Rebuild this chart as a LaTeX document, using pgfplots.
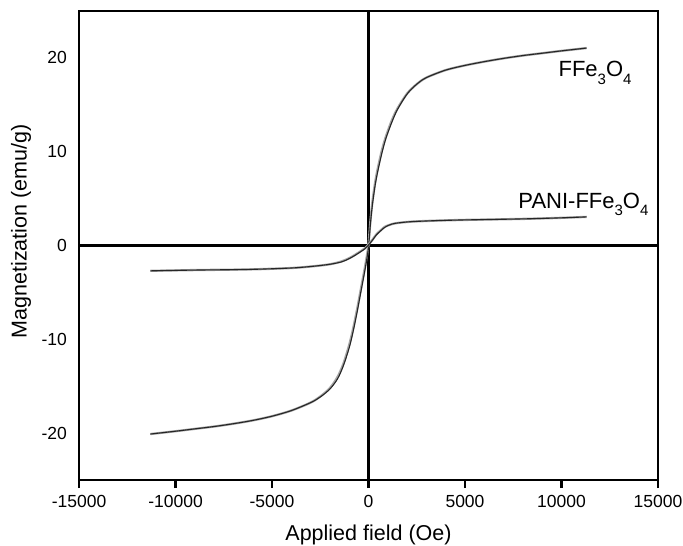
\documentclass[border=0pt]{standalone}
\usepackage{fontspec}
\setmainfont{Liberation Sans}
\usepackage{pgfplots}
\pgfplotsset{compat=1.18}
\newcommand{\sub}[1]{\raisebox{-7.5pt}{\fontsize{15}{15}\selectfont #1}}
\begin{document}
\begin{tikzpicture}
\useasboundingbox (-79pt,-66pt) rectangle (604pt,480pt);
\begin{axis}[
  at={(0pt,0pt)}, anchor=south west,
  scale only axis, width=579pt, height=469pt,
  xmin=-15000, xmax=15000, ymin=-25, ymax=25,
  xtick={-15000,-10000,-5000,0,5000,10000,15000},
  ytick={-20,-10,0,10,20},
  xtick pos=bottom, ytick pos=left,
  tick align=outside,
  major tick length=8pt,
  xtick style={black, line width=2.2pt},
  ytick style={draw=none},
  scaled x ticks=false,
  /pgf/number format/assume math mode=true,
  /pgf/number format/1000 sep={},
  ticklabel style={font=\fontsize{17.5}{17.5}\selectfont},
  xticklabel style={anchor=north, inner sep=0pt, yshift=-7pt},
  yticklabel style={anchor=east, inner sep=0pt, xshift=-4pt},
  axis line style={line width=2.4pt},
  label style={font=\fontsize{21.5}{21.5}\selectfont},
  xlabel={Applied field (Oe)},
  ylabel={Magnetization (emu/g)},
  xlabel style={at={(axis description cs:0.5,-0.117)}, anchor=center},
  ylabel style={at={(axis description cs:-0.1,0.53)}, anchor=center},
  clip=false,
]
\draw[line width=2.2pt] (axis cs:0,-25) -- (axis cs:0,25);
\draw[line width=2.2pt] (axis cs:-15000,0) -- (axis cs:15000,0);
% FFe3O4 (two branches)
\addplot[gray!70, line width=2.3pt, smooth, tension=0.5] coordinates {
(-11300,-20.1) (-10000,-19.8) (-9000,-19.55) (-8000,-19.3) (-7000,-19.0) (-6000,-18.65)
(-5000,-18.2) (-4000,-17.6) (-3000,-16.75) (-2500,-16.1) (-2000,-15.2) (-1600,-14.0)
(-1300,-12.6) (-1000,-10.6) (-800,-8.9) (-600,-6.9) (-400,-4.7) (-200,-2.5) (-100,-1.3)
(0,0.1) (100,2.6) (200,4.6) (350,6.8) (500,8.4) (700,10.2) (900,11.6) (1200,13.3)
(1500,14.6) (2000,16.2) (2500,17.2) (3000,17.9) (4000,18.7) (5000,19.2) (6000,19.6)
(7000,19.95) (8000,20.25) (9000,20.5) (10000,20.75) (11300,21.05)};
\addplot[black!85, line width=1.1pt, smooth, tension=0.5] coordinates {
(-11300,-20.1) (-10000,-19.8) (-9000,-19.55) (-8000,-19.3) (-7000,-19.0) (-6000,-18.65)
(-5000,-18.2) (-4000,-17.6) (-3000,-16.75) (-2500,-16.15) (-2000,-15.3) (-1600,-14.2)
(-1300,-12.8) (-1000,-10.9) (-800,-9.2) (-600,-7.2) (-400,-5.0) (-200,-2.8) (-100,-1.6)
(0,-0.2) (100,2.3) (200,4.3) (350,6.5) (500,8.1) (700,9.9) (900,11.4) (1200,13.1)
(1500,14.5) (2000,16.15) (2500,17.2) (3000,17.9) (4000,18.7) (5000,19.2) (6000,19.6)
(7000,19.95) (8000,20.25) (9000,20.5) (10000,20.75) (11300,21.05)};
% PANI-FFe3O4
\addplot[gray!70, line width=2.3pt, smooth, tension=0.5] coordinates {
(-11300,-2.7) (-9000,-2.62) (-6200,-2.55) (-4000,-2.4) (-2800,-2.2) (-2000,-2.0)
(-1400,-1.7) (-1000,-1.35) (-700,-1.0) (-400,-0.6) (-190,-0.3) (0,0.1) (200,0.6)
(415,1.2) (650,1.65) (850,2.0) (1100,2.2) (1400,2.37) (2200,2.54) (3500,2.65)
(4800,2.72) (6500,2.78) (8300,2.85) (10000,2.95) (11300,3.05)};
\addplot[black!85, line width=1.1pt, smooth, tension=0.5] coordinates {
(-11300,-2.7) (-9000,-2.62) (-6200,-2.55) (-4000,-2.4) (-2800,-2.2) (-2000,-2.0)
(-1400,-1.75) (-1000,-1.4) (-700,-1.05) (-400,-0.65) (-190,-0.35) (0,0.05) (200,0.55)
(415,1.15) (650,1.6) (850,1.95) (1100,2.2) (1400,2.37) (2200,2.54) (3500,2.65)
(4800,2.72) (6500,2.78) (8300,2.85) (10000,2.95) (11300,3.05)};
\node[anchor=base west, inner sep=0pt, font=\fontsize{22}{22}\selectfont] at (axis cs:9840,18.0) {FFe\sub{3}O\sub{4}};
\node[anchor=base west, inner sep=0pt, font=\fontsize{22}{22}\selectfont] at (axis cs:7760,3.97) {PANI-FFe\sub{3}O\sub{4}};
\end{axis}
\end{tikzpicture}
\end{document}
